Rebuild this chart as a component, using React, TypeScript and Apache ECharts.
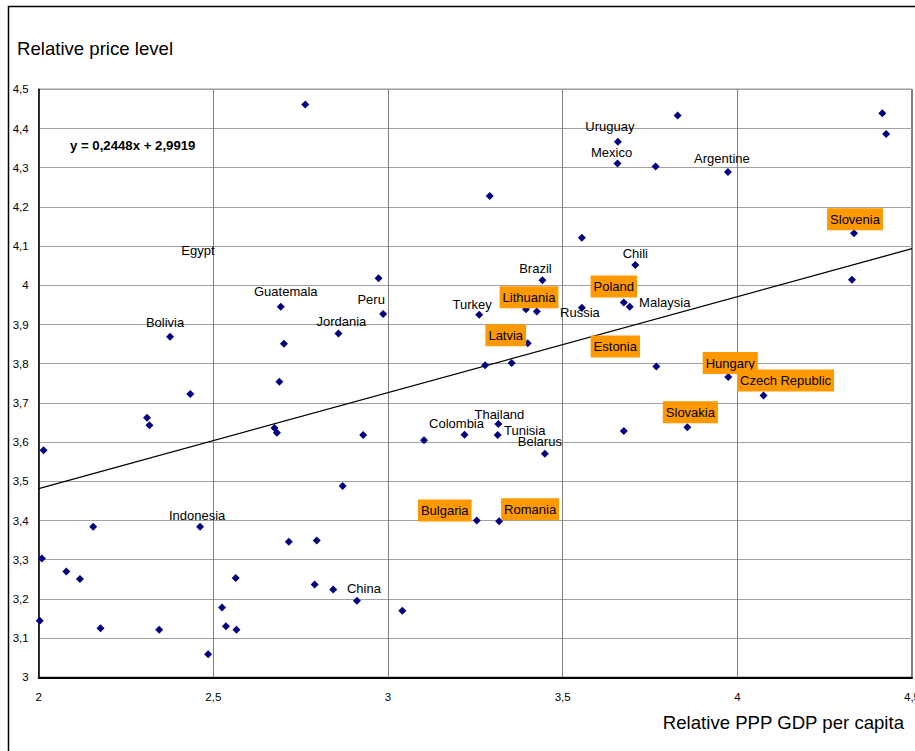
import React, { useEffect, useRef } from "react";
import * as echarts from "echarts";

// Labelled countries
const countries = [
  "Bolivia", "Guatemala", "Jordania", "Peru", "Egypt", "Uruguay", "Mexico", "Argentine",
  "Chili", "Brazil", "Turkey", "Lithuania", "Russia", "Poland", "Malaysia", "Latvia",
  "Estonia", "Hungary", "Czech Republic", "Slovakia", "Slovenia", "Thailand", "Tunisia",
  "Colombia", "Belarus", "Bulgaria", "Romania", "Indonesia", "China",
];
const gdp = [
  2.376, 2.693, 2.858, 2.986, 2.456, 3.658, 3.657, 3.973,
  3.708, 3.442, 3.261, 3.395, 3.555, 3.675, 3.692, 3.4,
  3.768, 3.974, 4.075, 3.857, 4.334, 3.316, 3.314,
  3.219, 3.449, 3.254, 3.318, 2.462, 2.911,
];
const price = [
  3.869, 3.945, 3.877, 3.927, 4.055, 4.366, 4.311, 4.289,
  4.052, 4.013, 3.925, 3.939, 3.943, 3.956, 3.945, 3.852,
  3.793, 3.766, 3.719, 3.638, 4.133, 3.646, 3.618,
  3.619, 3.57, 3.4, 3.398, 3.384, 3.195,
];
const highlighted = [
  "Lithuania", "Poland", "Latvia", "Estonia", "Hungary",
  "Czech Republic", "Slovakia", "Slovenia", "Bulgaria", "Romania",
];
const noMarker = ["Egypt"];

// Unlabelled countries
const otherGdp = [
  2.763, 2.702, 2.973, 3.829, 3.766, 4.415, 4.426, 3.291, 3.555, 4.328,
  3.426, 3.278, 3.354, 3.675, 3.103, 2.434, 2.689, 2.31, 2.317, 2.675,
  2.682, 2.929, 2.014, 2.87, 2.156, 2.716, 2.796, 2.009, 2.079, 2.118,
  2.564, 2.79, 2.843, 2.525, 3.041, 2.003, 2.536, 2.177, 2.345, 2.566, 2.485,
];
const otherPrice = [
  4.461, 3.851, 4.018, 4.433, 4.303, 4.439, 4.386, 4.228, 4.121, 4.014,
  3.933, 3.796, 3.802, 3.628, 3.605, 3.723, 3.754, 3.662, 3.643, 3.636,
  3.624, 3.618, 3.579, 3.488, 3.384, 3.346, 3.349, 3.303, 3.27, 3.251,
  3.253, 3.237, 3.224, 3.178, 3.17, 3.144, 3.13, 3.125, 3.121, 3.121, 3.059,
];

// Regression line shown on the chart
const slope = 0.2448;
const intercept = 2.9919;
const trendX = [2, 4.5];
const equationText = "y = 0,2448x + 2,9919";

// Label placement (offset from the marker centre, px)
const labelOffsets: Record<string, [number, number]> = {
  Bolivia: [-5, -14], Guatemala: [5, -15], Jordania: [3, -12], Peru: [-12, -14],
  Egypt: [0, -13], Uruguay: [-8, -15], Mexico: [-6, -11], Argentine: [-6, -14],
  Chili: [0, -11], Brazil: [-7, -12], Turkey: [-7, -10], Lithuania: [3, -12],
  Russia: [-2, 5], Poland: [-10, -16], Malaysia: [35, -4], Latvia: [-22, -8],
  Estonia: [-41, -20], Hungary: [2, -14], "Czech Republic": [22, -15], Slovakia: [3, -15],
  Slovenia: [1, -14], Thailand: [1, -10], Tunisia: [27, -5], Colombia: [-8, -11],
  Belarus: [-5, -12], Bulgaria: [-32, -10], Romania: [31, -12], Indonesia: [-3, -11],
  China: [7, -12],
};

const FONT = "'Liberation Sans', Arial, Helvetica, sans-serif";

export default function App() {
  const ref = useRef<HTMLDivElement>(null);
  useEffect(() => {
    const chart = echarts.init(ref.current!, null, { renderer: "svg" });
    const fmt = (v: number) => String(Math.round(v * 10) / 10).replace(".", ",");
    const labelled = countries.map((name, i) => {
      const hi = highlighted.includes(name);
      return {
        name,
        value: [gdp[i], price[i]],
        symbolSize: noMarker.includes(name) ? 0 : 8,
        label: {
          show: true,
          formatter: name,
          position: "inside",
          offset: labelOffsets[name] || [0, -12],
          fontSize: 13,
          fontFamily: FONT,
          color: "#000",
          backgroundColor: hi ? "#FF9900" : "transparent",
          padding: hi ? [5, 3, 4, 3] : 0,
        },
      };
    });
    chart.setOption({
      animation: false,
      backgroundColor: "#ffffff",
      textStyle: { fontFamily: FONT },
      grid: {
        left: 38.7, right: 3, top: 89.3, bottom: 73.7,
        outerBoundsMode: "none", containLabel: false,
        show: true, borderColor: "#000", borderWidth: 1,
      },
      xAxis: {
        type: "value", min: 2, max: 4.5, interval: 0.5,
        axisLine: { show: true, onZero: false, lineStyle: { color: "#000", width: 2 } },
        axisTick: { show: false },
        axisLabel: { formatter: fmt, fontSize: 11.5, color: "#000", margin: 14, fontFamily: FONT },
        splitLine: { show: true, lineStyle: { color: "#808080", width: 1 } },
      },
      yAxis: {
        type: "value", min: 3, max: 4.5, interval: 0.1,
        axisLine: { show: true, onZero: false, lineStyle: { color: "#000", width: 1.5 } },
        axisTick: { show: false },
        axisLabel: { formatter: fmt, fontSize: 11.5, color: "#000", margin: 10, fontFamily: FONT },
        splitLine: { show: true, lineStyle: { color: "#a0a0a0", width: 1 } },
      },
      graphic: [
        {
          type: "rect", z: -10, silent: true,
          shape: { x: 8.5, y: 6.5, width: 1000, height: 1000 },
          style: { fill: "none", stroke: "#000", lineWidth: 1.5 },
        },
        {
          type: "text", x: 17, y: 48,
          style: {
            text: "Relative price level", font: `18.6px ${FONT}`, fill: "#000",
            textAlign: "left", textVerticalAlign: "middle", align: "left", verticalAlign: "middle",
          },
        },
        {
          type: "text", x: 904, y: 722.5,
          style: {
            text: "Relative PPP GDP per capita", font: `18.6px ${FONT}`, fill: "#000",
            textAlign: "right", textVerticalAlign: "middle", align: "right", verticalAlign: "middle",
          },
        },
        {
          type: "text", x: 70, y: 145.5, z: 10,
          style: {
            text: equationText, font: `bold 13.2px ${FONT}`, fill: "#000",
            textAlign: "left", textVerticalAlign: "middle", align: "left", verticalAlign: "middle",
          },
        },
      ],
      series: [
        {
          type: "line",
          data: trendX.map((x) => [x, slope * x + intercept]),
          showSymbol: false, symbol: "none", silent: true, z: 1,
          lineStyle: { color: "#000", width: 1.3 },
        },
        {
          type: "scatter", symbol: "diamond", symbolSize: 8, z: 3, silent: true,
          itemStyle: { color: "#000080", opacity: 1 },
          data: otherGdp.map((x, i) => [x, otherPrice[i]]),
        },
        {
          type: "scatter", symbol: "diamond", z: 4, silent: true,
          itemStyle: { color: "#000080", opacity: 1 },
          data: labelled,
        },
      ],
    });
    return () => chart.dispose();
  }, []);
  return (
    <div
      ref={ref}
      style={{ position: "absolute", left: 0, top: 0, width: 915, height: 751 }}
    />
  );
}
